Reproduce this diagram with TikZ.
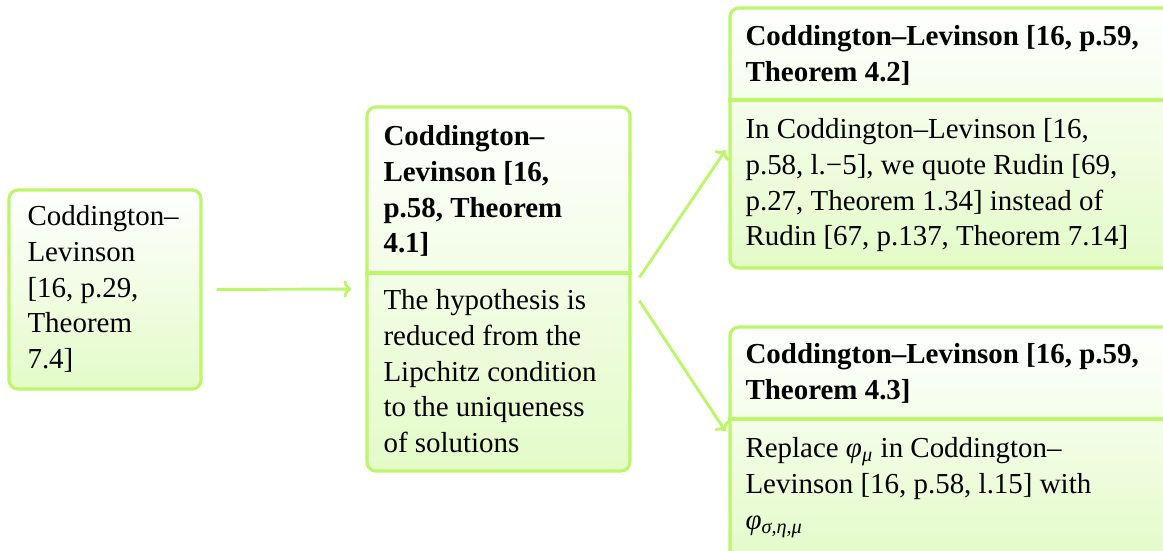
\documentclass[tikz,border=0pt]{standalone}
\usepackage{fontspec}
\setmainfont{Liberation Serif}
\usetikzlibrary{arrows.meta,fit}
\definecolor{lineg}{RGB}{188,246,106}
\definecolor{fillg}{RGB}{227,251,200}
\tikzset{
  panel/.style={draw=lineg, line width=1.2pt, rounded corners=3.4pt,
    shading=axis, top color=white, bottom color=fillg, inner sep=0pt},
  divider/.style={draw=lineg, line width=1.2pt},
  txt/.style={inner sep=0pt, align=left, anchor=north west,
    font=\fontsize{11}{13.6}\selectfont},
  conn/.style={draw=lineg, line width=1.1pt, shorten <=5.3pt, shorten >=5.3pt,
    -{To[length=3pt,width=6.5pt]}}
}
\begin{document}
\begin{tikzpicture}[x=0.38pt, y=-0.38pt]
\clip (0,0) rectangle (1163,550);
\fill[white] (0,0) rectangle (1163,550);

% frames
\node[panel, fit={(9,190) (201,389)}] (b1) {};
\node[panel, fit={(367,107) (630,471)}] (b2) {};
\node[panel, fit={(730,8) (1180,268)}] (b3) {};
\node[panel, fit={(730,327) (1180,560)}] (b4) {};

% split lines between title and body
\coordinate (d2) at (0,273);
\coordinate (d3) at (0,100);
\coordinate (d4) at (0,419);
\draw[divider] (b2.west |- d2) -- (b2.east |- d2);
\draw[divider] (b3.west |- d3) -- (b3.east |- d3);
\draw[divider] (b4.west |- d4) -- (b4.east |- d4);

% texts
\node[txt] (t1) at (27,200) {\strut Coddington–\\Levinson\\{}[16, p.29,\\Theorem\\7.4]};
\node[txt, font=\fontsize{11}{13.6}\selectfont\bfseries] (h2) at (383,120)
  {\strut Coddington–\\Levinson [16,\\p.58, Theorem\\4.1]};
\node[txt] (p2) at (383,284)
  {\strut The hypothesis is\\reduced from the\\Lipchitz condition\\to the uniqueness\\of solutions};
\node[txt, font=\fontsize{11}{13.6}\selectfont\bfseries] (h3) at (745,20)
  {\strut Coddington–Levinson [16, p.59,\\Theorem 4.2]};
\node[txt] (p3) at (745,113)
  {\strut In Coddington–Levinson [16,\\p.58, l.−5], we quote Rudin [69,\\p.27, Theorem 1.34] instead of\\Rudin [67, p.137, Theorem 7.14]};
\node[txt, font=\fontsize{11}{13.6}\selectfont\bfseries] (h4) at (745,338)
  {\strut Coddington–Levinson [16, p.59,\\Theorem 4.3]};
\node[txt] (p4) at (745,432)
  {\strut Replace \textit{φ}\textsubscript{\textit{μ}} in Coddington–\\Levinson [16, p.58, l.15] with\\\textit{φ}\textsubscript{\textit{σ},\textit{η},\textit{μ}}};

% connectors
\draw[conn] (b1.east) -- (b2.west);
\draw[conn, shorten >=2pt] (b2.east) -- ([yshift=-3pt]b3.west);
\draw[conn, shorten >=2pt] (b2.east) -- ([yshift=3pt]b4.west);
\end{tikzpicture}
\end{document}
